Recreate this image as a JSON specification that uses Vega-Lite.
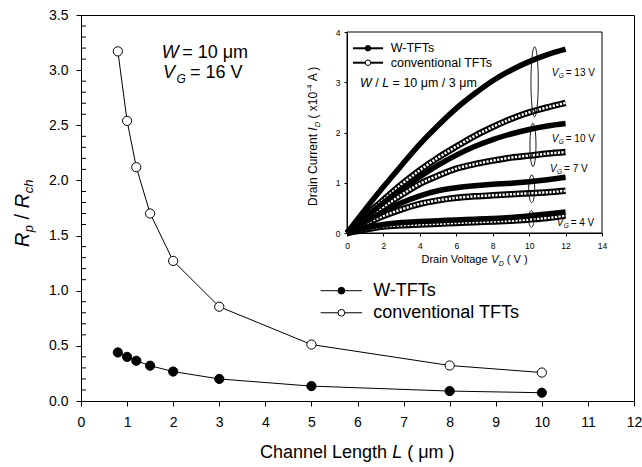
{
  "$schema": "https://vega.github.io/schema/vega-lite/v6.json",
  "width": 553,
  "height": 386,
  "autosize": {"type": "none"},
  "padding": {"left": 81, "top": 15, "right": 8, "bottom": 66},
  "background": "white",
  "config": {
    "view": {"stroke": "black", "strokeWidth": 1},
    "font": "Liberation Sans",
    "axis": {"grid": false, "domainColor": "black", "tickColor": "black", "labelColor": "black", "labelFont": "Liberation Sans", "labelFlush": false, "labelOverlap": false},
    "text": {"font": "Liberation Sans", "color": "black"}
  },
  "datasets": {
    "main": [
      {"s": "W-TFTs", "x": 0.8, "y": 0.44},
      {"s": "W-TFTs", "x": 1.0, "y": 0.40},
      {"s": "W-TFTs", "x": 1.2, "y": 0.365},
      {"s": "W-TFTs", "x": 1.5, "y": 0.32},
      {"s": "W-TFTs", "x": 2, "y": 0.267},
      {"s": "W-TFTs", "x": 3, "y": 0.20},
      {"s": "W-TFTs", "x": 5, "y": 0.135},
      {"s": "W-TFTs", "x": 8, "y": 0.09},
      {"s": "W-TFTs", "x": 10, "y": 0.075},
      {"s": "conventional TFTs", "x": 0.8, "y": 3.17},
      {"s": "conventional TFTs", "x": 1.0, "y": 2.54},
      {"s": "conventional TFTs", "x": 1.2, "y": 2.12},
      {"s": "conventional TFTs", "x": 1.5, "y": 1.70},
      {"s": "conventional TFTs", "x": 2, "y": 1.27},
      {"s": "conventional TFTs", "x": 3, "y": 0.855},
      {"s": "conventional TFTs", "x": 5, "y": 0.512},
      {"s": "conventional TFTs", "x": 8, "y": 0.322},
      {"s": "conventional TFTs", "x": 10, "y": 0.258}
    ],
    "minor": [
      {"x": 0, "x2": 0.11, "y": 0.1}, {"x": 0, "x2": 0.11, "y": 0.2}, {"x": 0, "x2": 0.11, "y": 0.3}, {"x": 0, "x2": 0.11, "y": 0.4},
      {"x": 0, "x2": 0.11, "y": 0.6}, {"x": 0, "x2": 0.11, "y": 0.7}, {"x": 0, "x2": 0.11, "y": 0.8}, {"x": 0, "x2": 0.11, "y": 0.9},
      {"x": 0, "x2": 0.11, "y": 1.1}, {"x": 0, "x2": 0.11, "y": 1.2}, {"x": 0, "x2": 0.11, "y": 1.3}, {"x": 0, "x2": 0.11, "y": 1.4},
      {"x": 0, "x2": 0.11, "y": 1.6}, {"x": 0, "x2": 0.11, "y": 1.7}, {"x": 0, "x2": 0.11, "y": 1.8}, {"x": 0, "x2": 0.11, "y": 1.9},
      {"x": 0, "x2": 0.11, "y": 2.1}, {"x": 0, "x2": 0.11, "y": 2.2}, {"x": 0, "x2": 0.11, "y": 2.3}, {"x": 0, "x2": 0.11, "y": 2.4},
      {"x": 0, "x2": 0.11, "y": 2.6}, {"x": 0, "x2": 0.11, "y": 2.7}, {"x": 0, "x2": 0.11, "y": 2.8}, {"x": 0, "x2": 0.11, "y": 2.9},
      {"x": 0, "x2": 0.11, "y": 3.1}, {"x": 0, "x2": 0.11, "y": 3.2}, {"x": 0, "x2": 0.11, "y": 3.3}, {"x": 0, "x2": 0.11, "y": 3.4}
    ],
    "curves": [
      {"t": "W", "vg": 13, "vd": 0, "id": 0}, {"t": "W", "vg": 13, "vd": 1, "id": 0.47}, {"t": "W", "vg": 13, "vd": 2, "id": 0.92}, {"t": "W", "vg": 13, "vd": 3, "id": 1.35}, {"t": "W", "vg": 13, "vd": 4, "id": 1.77}, {"t": "W", "vg": 13, "vd": 5, "id": 2.14}, {"t": "W", "vg": 13, "vd": 6, "id": 2.48}, {"t": "W", "vg": 13, "vd": 7, "id": 2.77}, {"t": "W", "vg": 13, "vd": 8, "id": 3.03}, {"t": "W", "vg": 13, "vd": 9, "id": 3.24}, {"t": "W", "vg": 13, "vd": 10, "id": 3.41}, {"t": "W", "vg": 13, "vd": 11, "id": 3.55}, {"t": "W", "vg": 13, "vd": 12, "id": 3.66},
      {"t": "C", "vg": 13, "vd": 0, "id": 0}, {"t": "C", "vg": 13, "vd": 1, "id": 0.34}, {"t": "C", "vg": 13, "vd": 2, "id": 0.66}, {"t": "C", "vg": 13, "vd": 3, "id": 0.97}, {"t": "C", "vg": 13, "vd": 4, "id": 1.25}, {"t": "C", "vg": 13, "vd": 5, "id": 1.50}, {"t": "C", "vg": 13, "vd": 6, "id": 1.72}, {"t": "C", "vg": 13, "vd": 7, "id": 1.93}, {"t": "C", "vg": 13, "vd": 8, "id": 2.11}, {"t": "C", "vg": 13, "vd": 9, "id": 2.27}, {"t": "C", "vg": 13, "vd": 10, "id": 2.40}, {"t": "C", "vg": 13, "vd": 11, "id": 2.50}, {"t": "C", "vg": 13, "vd": 12, "id": 2.59},
      {"t": "W", "vg": 10, "vd": 0, "id": 0}, {"t": "W", "vg": 10, "vd": 1, "id": 0.31}, {"t": "W", "vg": 10, "vd": 2, "id": 0.60}, {"t": "W", "vg": 10, "vd": 3, "id": 0.88}, {"t": "W", "vg": 10, "vd": 4, "id": 1.12}, {"t": "W", "vg": 10, "vd": 5, "id": 1.35}, {"t": "W", "vg": 10, "vd": 6, "id": 1.55}, {"t": "W", "vg": 10, "vd": 7, "id": 1.72}, {"t": "W", "vg": 10, "vd": 8, "id": 1.86}, {"t": "W", "vg": 10, "vd": 9, "id": 1.97}, {"t": "W", "vg": 10, "vd": 10, "id": 2.06}, {"t": "W", "vg": 10, "vd": 11, "id": 2.13}, {"t": "W", "vg": 10, "vd": 12, "id": 2.18},
      {"t": "C", "vg": 10, "vd": 0, "id": 0}, {"t": "C", "vg": 10, "vd": 1, "id": 0.27}, {"t": "C", "vg": 10, "vd": 2, "id": 0.52}, {"t": "C", "vg": 10, "vd": 3, "id": 0.76}, {"t": "C", "vg": 10, "vd": 4, "id": 0.98}, {"t": "C", "vg": 10, "vd": 5, "id": 1.14}, {"t": "C", "vg": 10, "vd": 6, "id": 1.28}, {"t": "C", "vg": 10, "vd": 7, "id": 1.37}, {"t": "C", "vg": 10, "vd": 8, "id": 1.44}, {"t": "C", "vg": 10, "vd": 9, "id": 1.50}, {"t": "C", "vg": 10, "vd": 10, "id": 1.54}, {"t": "C", "vg": 10, "vd": 11, "id": 1.58}, {"t": "C", "vg": 10, "vd": 12, "id": 1.61},
      {"t": "W", "vg": 7, "vd": 0, "id": 0}, {"t": "W", "vg": 7, "vd": 1, "id": 0.22}, {"t": "W", "vg": 7, "vd": 2, "id": 0.42}, {"t": "W", "vg": 7, "vd": 3, "id": 0.60}, {"t": "W", "vg": 7, "vd": 4, "id": 0.74}, {"t": "W", "vg": 7, "vd": 5, "id": 0.84}, {"t": "W", "vg": 7, "vd": 6, "id": 0.90}, {"t": "W", "vg": 7, "vd": 7, "id": 0.94}, {"t": "W", "vg": 7, "vd": 8, "id": 0.97}, {"t": "W", "vg": 7, "vd": 9, "id": 0.99}, {"t": "W", "vg": 7, "vd": 10, "id": 1.02}, {"t": "W", "vg": 7, "vd": 11, "id": 1.06}, {"t": "W", "vg": 7, "vd": 12, "id": 1.11},
      {"t": "C", "vg": 7, "vd": 0, "id": 0}, {"t": "C", "vg": 7, "vd": 1, "id": 0.18}, {"t": "C", "vg": 7, "vd": 2, "id": 0.34}, {"t": "C", "vg": 7, "vd": 3, "id": 0.47}, {"t": "C", "vg": 7, "vd": 4, "id": 0.58}, {"t": "C", "vg": 7, "vd": 5, "id": 0.65}, {"t": "C", "vg": 7, "vd": 6, "id": 0.70}, {"t": "C", "vg": 7, "vd": 7, "id": 0.73}, {"t": "C", "vg": 7, "vd": 8, "id": 0.75}, {"t": "C", "vg": 7, "vd": 9, "id": 0.77}, {"t": "C", "vg": 7, "vd": 10, "id": 0.79}, {"t": "C", "vg": 7, "vd": 11, "id": 0.81}, {"t": "C", "vg": 7, "vd": 12, "id": 0.84},
      {"t": "W", "vg": 4, "vd": 0, "id": 0}, {"t": "W", "vg": 4, "vd": 1, "id": 0.10}, {"t": "W", "vg": 4, "vd": 2, "id": 0.17}, {"t": "W", "vg": 4, "vd": 3, "id": 0.21}, {"t": "W", "vg": 4, "vd": 4, "id": 0.23}, {"t": "W", "vg": 4, "vd": 5, "id": 0.245}, {"t": "W", "vg": 4, "vd": 6, "id": 0.26}, {"t": "W", "vg": 4, "vd": 7, "id": 0.275}, {"t": "W", "vg": 4, "vd": 8, "id": 0.29}, {"t": "W", "vg": 4, "vd": 9, "id": 0.31}, {"t": "W", "vg": 4, "vd": 10, "id": 0.34}, {"t": "W", "vg": 4, "vd": 11, "id": 0.38}, {"t": "W", "vg": 4, "vd": 12, "id": 0.42},
      {"t": "C", "vg": 4, "vd": 0, "id": 0}, {"t": "C", "vg": 4, "vd": 1, "id": 0.07}, {"t": "C", "vg": 4, "vd": 2, "id": 0.13}, {"t": "C", "vg": 4, "vd": 3, "id": 0.155}, {"t": "C", "vg": 4, "vd": 4, "id": 0.17}, {"t": "C", "vg": 4, "vd": 5, "id": 0.185}, {"t": "C", "vg": 4, "vd": 6, "id": 0.20}, {"t": "C", "vg": 4, "vd": 7, "id": 0.215}, {"t": "C", "vg": 4, "vd": 8, "id": 0.23}, {"t": "C", "vg": 4, "vd": 9, "id": 0.245}, {"t": "C", "vg": 4, "vd": 10, "id": 0.27}, {"t": "C", "vg": 4, "vd": 11, "id": 0.30}, {"t": "C", "vg": 4, "vd": 12, "id": 0.35}
    ],
    "ytitle": [{"x": -1.139, "y": 1.396}],
    "xtitle": [{"x": 6.86, "y": -0.469}],
    "wlab": [{"x": 1.75, "y": 3.107}],
    "vlab": [{"x": 1.78, "y": 2.928}],
    "vgl": [
      {"vd": 11.24, "id": 3.134, "t": "= 13 V"},
      {"vd": 11.24, "id": 1.811, "t": "= 10 V"},
      {"vd": 11.15, "id": 1.214, "t": "= 7 V"},
      {"vd": 11.51, "id": 0.149, "t": "= 4 V"}
    ],
    "wl": [{"vd": 0.714, "id": 2.911}],
    "ixt": [{"vd": 4.09, "id": -0.591}],
    "iyt": [{"vd": -1.647, "id": 0.537}]
  },
  "layer": [
    {
      "data": {"name": "main"},
      "encoding": {
        "x": {"field": "x", "type": "quantitative", "scale": {"domain": [0, 12], "nice": false, "zero": false},
              "axis": {"values": [0,1,2,3,4,5,6,7,8,9,10,11,12], "title": null, "tickSize": 5, "labelFontSize": 14, "labelPadding": 9}},
        "y": {"field": "y", "type": "quantitative", "scale": {"domain": [0, 3.5], "nice": false, "zero": false},
              "axis": {"values": [0,0.5,1,1.5,2,2.5,3,3.5], "format": ".1f", "title": null, "tickSize": 5, "labelFontSize": 14, "labelPadding": 8}}
      },
      "layer": [
        {"data": {"name": "minor"}, "mark": {"type": "rule", "color": "black", "strokeWidth": 1}, "encoding": {"x2": {"field": "x2"}}},
        {"mark": {"type": "line", "color": "black", "strokeWidth": 1}, "encoding": {"detail": {"field": "s"}}},
        {"mark": {"type": "point", "shape": "circle", "filled": true, "size": 85, "stroke": "black", "strokeWidth": 1, "opacity": 1},
         "encoding": {"fill": {"field": "s", "type": "nominal", "scale": {"domain": ["W-TFTs", "conventional TFTs"], "range": ["black", "white"]}, "legend": null}}},
        {"data": {"values": [{"x": 5.2, "x2": 6.1, "y": 1.0}, {"x": 5.2, "x2": 6.1, "y": 0.8}]},
         "mark": {"type": "rule", "color": "black", "strokeWidth": 1}, "encoding": {"x2": {"field": "x2"}}},
        {"data": {"values": [{"x": 5.65, "y": 1.0, "s": "W-TFTs"}, {"x": 5.65, "y": 0.8, "s": "conventional TFTs"}]},
         "mark": {"type": "point", "shape": "circle", "filled": true, "size": 45, "stroke": "black", "strokeWidth": 1, "opacity": 1},
         "encoding": {"fill": {"field": "s", "type": "nominal", "legend": null}}},
        {"data": {"values": [{"x": 6.34, "y": 1.0, "s": "W-TFTs"}, {"x": 6.34, "y": 0.8, "s": "conventional TFTs"}]},
         "mark": {"type": "text", "align": "left", "baseline": "middle", "fontSize": 18, "color": "black"},
         "encoding": {"text": {"field": "s"}}},
        {"data": {"name": "wlab"}, "mark": {"type": "text", "text": "W", "align": "left", "baseline": "alphabetic", "fontSize": 18, "fontStyle": "italic", "color": "black"}},
        {"data": {"name": "wlab"}, "mark": {"type": "text", "text": "= 10 μm", "align": "left", "baseline": "alphabetic", "fontSize": 18, "dx": 20.5, "color": "black"}},
        {"data": {"name": "vlab"}, "mark": {"type": "text", "text": "V", "align": "left", "baseline": "alphabetic", "fontSize": 18, "fontStyle": "italic", "color": "black"}},
        {"data": {"name": "vlab"}, "mark": {"type": "text", "text": "G", "align": "left", "baseline": "alphabetic", "fontSize": 12, "fontStyle": "italic", "dx": 13.5, "dy": 5, "color": "black"}},
        {"data": {"name": "vlab"}, "mark": {"type": "text", "text": "= 16 V", "align": "left", "baseline": "alphabetic", "fontSize": 18, "dx": 27, "color": "black"}},
        {"data": {"name": "xtitle"}, "mark": {"type": "text", "text": "Channel Length", "align": "right", "baseline": "middle", "fontSize": 18, "dx": -10, "color": "black"}},
        {"data": {"name": "xtitle"}, "mark": {"type": "text", "text": "L", "align": "center", "baseline": "middle", "fontSize": 18, "fontStyle": "italic", "color": "black"}},
        {"data": {"name": "xtitle"}, "mark": {"type": "text", "text": "( μm )", "align": "left", "baseline": "middle", "fontSize": 18, "dx": 10, "color": "black"}},
        {"data": {"name": "ytitle"}, "mark": {"type": "text", "text": "R", "angle": 270, "align": "left", "baseline": "alphabetic", "fontSize": 20, "fontStyle": "italic", "color": "black"}},
        {"data": {"name": "ytitle"}, "mark": {"type": "text", "text": "p", "angle": 270, "align": "left", "baseline": "alphabetic", "fontSize": 13, "fontStyle": "italic", "dx": 14.8, "dy": 4, "color": "black"}},
        {"data": {"name": "ytitle"}, "mark": {"type": "text", "text": "/", "angle": 270, "align": "left", "baseline": "alphabetic", "fontSize": 20, "dx": 27.6, "color": "black"}},
        {"data": {"name": "ytitle"}, "mark": {"type": "text", "text": "R", "angle": 270, "align": "left", "baseline": "alphabetic", "fontSize": 20, "fontStyle": "italic", "dx": 38.8, "color": "black"}},
        {"data": {"name": "ytitle"}, "mark": {"type": "text", "text": "ch", "angle": 270, "align": "left", "baseline": "alphabetic", "fontSize": 13, "fontStyle": "italic", "dx": 53.7, "dy": 4, "color": "black"}}
      ]
    },
    {
      "data": {"name": "curves"},
      "encoding": {
        "x": {"field": "vd", "type": "quantitative", "scale": {"domain": [0, 14], "range": [266, 521], "nice": false, "zero": false},
              "axis": {"values": [0,2,4,6,8,10,12,14], "title": null, "orient": "bottom", "offset": -168, "tickSize": 3, "labelFontSize": 8.5, "labelPadding": 5}},
        "y": {"field": "id", "type": "quantitative", "scale": {"domain": [0, 4], "range": [218, 17], "nice": false, "zero": false},
              "axis": {"values": [0,1,2,3,4], "title": null, "orient": "left", "offset": -266, "tickSize": 3, "labelFontSize": 8.5, "labelPadding": 4}}
      },
      "layer": [
        {"data": {"values": [{"vd": 0, "vd2": 14, "id": 0, "id2": 4}]},
         "mark": {"type": "rect", "filled": false, "color": "black", "strokeWidth": 1},
         "encoding": {"x2": {"field": "vd2"}, "y2": {"field": "id2"}}},
        {"transform": [{"filter": "datum.t == 'C'"}], "mark": {"type": "line", "color": "black", "strokeWidth": 6.5, "interpolate": "monotone"}, "encoding": {"detail": {"field": "vg"}}},
        {"transform": [{"filter": "datum.t == 'C'"}], "mark": {"type": "line", "color": "white", "strokeWidth": 2.5, "strokeDash": [2.2, 1.4], "interpolate": "monotone"}, "encoding": {"detail": {"field": "vg"}}},
        {"transform": [{"filter": "datum.t == 'W'"}], "mark": {"type": "line", "color": "black", "strokeWidth": 5.5, "interpolate": "monotone"}, "encoding": {"detail": {"field": "vg"}}},
        {"data": {"values": [{"vd": 10.3, "id": 3.01}]},
         "mark": {"type": "point", "shape": "M0,-1C0.0574,-1,0.104,-0.5523,0.104,0C0.104,0.5523,0.0574,1,0,1C-0.0574,1,-0.104,0.5523,-0.104,0C-0.104,-0.5523,-0.0574,-1,0,-1Z", "size": 4900, "filled": false, "color": "black", "strokeWidth": 0.9, "opacity": 1}},
        {"data": {"values": [{"vd": 10.21, "id": 1.751}]},
         "mark": {"type": "point", "shape": "M0,-1C0.0768,-1,0.139,-0.5523,0.139,0C0.139,0.5523,0.0768,1,0,1C-0.0768,1,-0.139,0.5523,-0.139,0C-0.139,-0.5523,-0.0768,-1,0,-1Z", "size": 1875, "filled": false, "color": "black", "strokeWidth": 0.9, "opacity": 1}},
        {"data": {"values": [{"vd": 10.14, "id": 0.88}]},
         "mark": {"type": "point", "shape": "M0,-1C0.1198,-1,0.217,-0.5523,0.217,0C0.217,0.5523,0.1198,1,0,1C-0.1198,1,-0.217,0.5523,-0.217,0C-0.217,-0.5523,-0.1198,-1,0,-1Z", "size": 767, "filled": false, "color": "black", "strokeWidth": 0.9, "opacity": 1}},
        {"data": {"values": [{"vd": 10.12, "id": 0.279}]},
         "mark": {"type": "point", "shape": "M0,-1C0.1751,-1,0.317,-0.5523,0.317,0C0.317,0.5523,0.1751,1,0,1C-0.1751,1,-0.317,0.5523,-0.317,0C-0.317,-0.5523,-0.1751,-1,0,-1Z", "size": 279, "filled": false, "color": "black", "strokeWidth": 0.9, "opacity": 1}},
        {"data": {"values": [{"vd": 0.33, "vd2": 1.98, "id": 3.676}, {"vd": 0.33, "vd2": 1.98, "id": 3.389}]},
         "mark": {"type": "rule", "color": "black", "strokeWidth": 2}, "encoding": {"x2": {"field": "vd2"}}},
        {"data": {"values": [{"vd": 1.15, "id": 3.676, "s": "W-TFTs"}, {"vd": 1.15, "id": 3.389, "s": "conventional TFTs"}]},
         "mark": {"type": "point", "shape": "circle", "filled": true, "size": 30, "stroke": "black", "strokeWidth": 1, "opacity": 1},
         "encoding": {"fill": {"field": "s", "type": "nominal", "legend": null}}},
        {"data": {"values": [{"vd": 2.4, "id": 3.676, "s": "W-TFTs"}, {"vd": 2.4, "id": 3.389, "s": "conventional TFTs"}]},
         "mark": {"type": "text", "align": "left", "baseline": "middle", "fontSize": 12.5, "color": "black"},
         "encoding": {"text": {"field": "s"}}},
        {"data": {"name": "wl"}, "mark": {"type": "text", "text": "W", "align": "left", "baseline": "alphabetic", "fontSize": 12.5, "fontStyle": "italic", "color": "black"}},
        {"data": {"name": "wl"}, "mark": {"type": "text", "text": "/", "align": "left", "baseline": "alphabetic", "fontSize": 12.5, "dx": 15.3, "color": "black"}},
        {"data": {"name": "wl"}, "mark": {"type": "text", "text": "L", "align": "left", "baseline": "alphabetic", "fontSize": 12.5, "fontStyle": "italic", "dx": 22.3, "color": "black"}},
        {"data": {"name": "wl"}, "mark": {"type": "text", "text": "= 10 μm / 3 μm", "align": "left", "baseline": "alphabetic", "fontSize": 12.5, "dx": 32.6, "color": "black"}},
        {"data": {"name": "vgl"}, "mark": {"type": "text", "text": "V", "align": "left", "baseline": "alphabetic", "fontSize": 10, "fontStyle": "italic", "color": "black"}},
        {"data": {"name": "vgl"}, "mark": {"type": "text", "text": "G", "align": "left", "baseline": "alphabetic", "fontSize": 6.5, "fontStyle": "italic", "dx": 7, "dy": 2.5, "color": "black"}},
        {"data": {"name": "vgl"}, "mark": {"type": "text", "align": "left", "baseline": "alphabetic", "fontSize": 10, "dx": 14, "color": "black"}, "encoding": {"text": {"field": "t"}}},
        {"data": {"name": "ixt"}, "mark": {"type": "text", "text": "Drain Voltage", "align": "left", "baseline": "alphabetic", "fontSize": 11, "color": "black"}},
        {"data": {"name": "ixt"}, "mark": {"type": "text", "text": "V", "align": "left", "baseline": "alphabetic", "fontSize": 11, "fontStyle": "italic", "dx": 69.7, "color": "black"}},
        {"data": {"name": "ixt"}, "mark": {"type": "text", "text": "D", "align": "left", "baseline": "alphabetic", "fontSize": 7, "fontStyle": "italic", "dx": 77.2, "dy": 3, "color": "black"}},
        {"data": {"name": "ixt"}, "mark": {"type": "text", "text": "( V )", "align": "left", "baseline": "alphabetic", "fontSize": 11, "dx": 85.3, "color": "black"}},
        {"data": {"name": "iyt"}, "mark": {"type": "text", "text": "Drain Current", "angle": 270, "align": "left", "baseline": "alphabetic", "fontSize": 12, "color": "black"}},
        {"data": {"name": "iyt"}, "mark": {"type": "text", "text": "I", "angle": 270, "align": "left", "baseline": "alphabetic", "fontSize": 12, "fontStyle": "italic", "dx": 75.3, "color": "black"}},
        {"data": {"name": "iyt"}, "mark": {"type": "text", "text": "D", "angle": 270, "align": "left", "baseline": "alphabetic", "fontSize": 7.5, "fontStyle": "italic", "dx": 78.8, "dy": 2.5, "color": "black"}},
        {"data": {"name": "iyt"}, "mark": {"type": "text", "text": "( x10", "angle": 270, "align": "left", "baseline": "alphabetic", "fontSize": 12, "dx": 87.5, "color": "black"}},
        {"data": {"name": "iyt"}, "mark": {"type": "text", "text": "-4", "angle": 270, "align": "left", "baseline": "alphabetic", "fontSize": 7.5, "dx": 114.7, "dy": -5, "color": "black"}},
        {"data": {"name": "iyt"}, "mark": {"type": "text", "text": "A )", "angle": 270, "align": "left", "baseline": "alphabetic", "fontSize": 12, "dx": 124.7, "color": "black"}}
      ]
    }
  ],
  "resolve": {"scale": {"x": "independent", "y": "independent"}, "axis": {"x": "independent", "y": "independent"}}
}
